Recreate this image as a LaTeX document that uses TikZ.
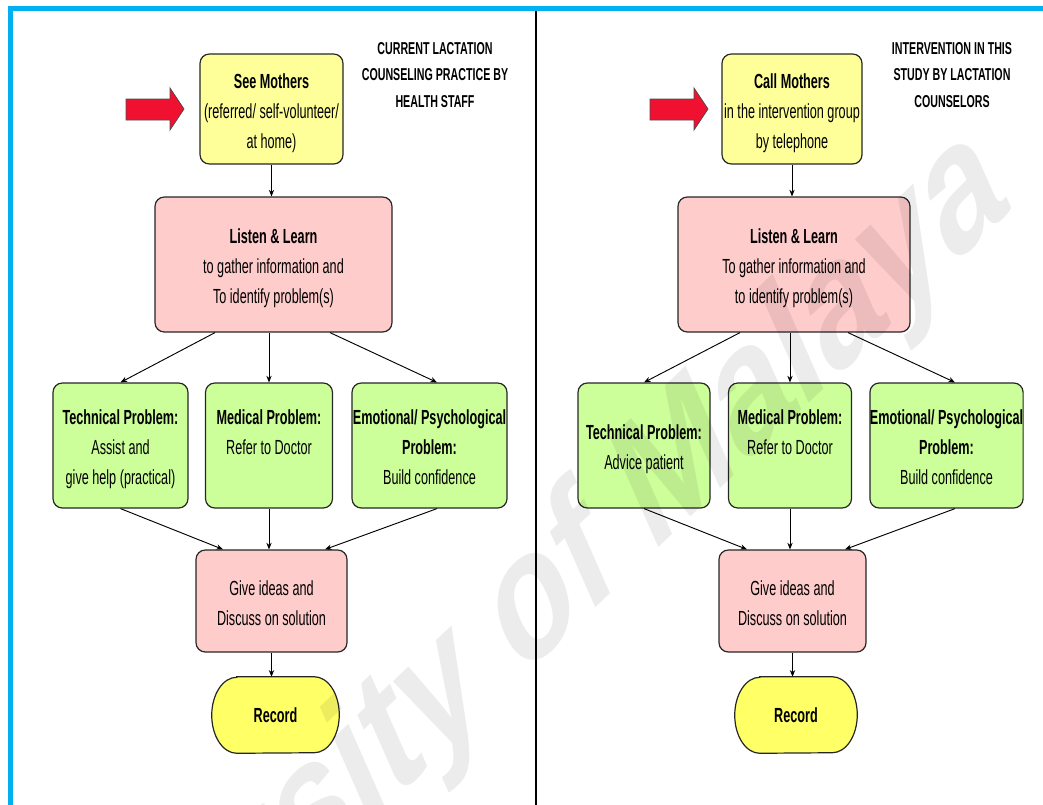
\documentclass[tikz,border=0pt]{standalone}
\usepackage{fontspec}
\setmainfont{Liberation Sans}[FakeStretch=0.62]
\newfontfamily\wmfont{Liberation Sans}
\usetikzlibrary{arrows.meta,backgrounds}

\definecolor{boxyellow}{HTML}{FFFF99}
\definecolor{boxpink}{HTML}{FFCCCC}
\definecolor{boxgreen}{HTML}{CCFF99}
\definecolor{recyellow}{HTML}{FFFF66}
\definecolor{arrowred}{HTML}{F0102F}
\definecolor{frameblue}{HTML}{00B0F0}

\newcommand\bxfont{\fontsize{15.3}{22.5}\selectfont}
\newcommand\hdfont{\bfseries\fontsize{12.9}{19.9}\selectfont}
% struts that fix the height of the first and the depth of the last text line
\newcommand\firstrow{\rule{0pt}{20.25pt}}
\newcommand\lastrow{\rule[-6.75pt]{0pt}{6.75pt}}

% outline of a terminator box with elliptic ends, drawn behind the named node
\newcommand\termpath[1]{%
  \begin{scope}[on background layer]
    \draw[recshape] ([shift={(25,0)}]#1.north west) -- ([shift={(-25,0)}]#1.north east)
      arc[start angle=90, end angle=-90, x radius=18.75pt, y radius=28.5pt]
      -- ([shift={(25,0)}]#1.south west)
      arc[start angle=270, end angle=90, x radius=18.75pt, y radius=28.5pt] -- cycle;
  \end{scope}}

\tikzset{
  entryarrow/.pic={
    \draw[entry] (0,-10) -- (44,-10) -- (44,-21) -- (58,0) -- (44,21) -- (44,11) -- (0,11) -- cycle;
  }
}

\begin{document}
\begin{tikzpicture}[x=0.75pt,y=-0.75pt,
  wh/.style 2 args={minimum width=#1*0.75pt, minimum height=#2*0.75pt},
  box/.style={draw=black!85, line width=0.9pt, rounded corners=7pt, align=center, inner sep=0pt, font=\bxfont},
  seebox/.style={box, fill=boxyellow},
  learnbox/.style={box, fill=boxpink},
  probbox/.style={box, fill=boxgreen},
  recbox/.style={align=center, inner sep=0pt, font=\bxfont\bfseries},
  recshape/.style={draw=black!85, line width=0.9pt, fill=recyellow},
  link/.style={draw=black, line width=0.7pt, -{Stealth[length=5pt,width=4pt]}},
  entry/.style={fill=arrowred, draw=black!70, line width=0.6pt},
  heading/.style={align=center, font=\hdfont},
  frame/.style={draw=frameblue, line width=3.75pt},
  divider/.style={draw=black, line width=1.5pt},
]
\useasboundingbox (0,0) rectangle (1043,804);
\clip (0,0) rectangle (1043,804);

% page frame and divider between the two panels
\draw[frame] (10.5,830) -- (10.5,8.5) -- (1070,8.5);
\draw[divider] (536,11) -- (536,810);

% ---------- left panel: current practice ----------
\pic at (126,109) {entryarrow};
\node[heading] (titleL) at (435,75) {CURRENT LACTATION\\COUNSELING PRACTICE BY\\HEALTH STAFF};

\node[seebox, wh={143}{110}] (seeL) at (271.5,109)
  {\firstrow\textbf{See Mothers}\\(referred/ self-volunteer/\\at home)\lastrow};
\node[learnbox, wh={237}{135}] (learnL) at (273.5,264.5)
  {\firstrow\textbf{Listen \& Learn}\\to gather information and\\To identify problem(s)\lastrow};
\node[probbox, wh={135}{125}] (techL) at (120.5,445.5)
  {\firstrow\textbf{Technical Problem:}\\Assist and\\give help (practical)\lastrow};
\node[probbox, wh={127}{125}] (medL) at (269,445.5)
  {\firstrow\textbf{Medical Problem:}\\Refer to Doctor\\\lastrow};
\node[probbox, wh={155}{125}] (emoL) at (429.5,445.5)
  {\firstrow\textbf{Emotional/ Psychological}\\\textbf{Problem:}\\Build confidence\lastrow};
\node[learnbox, wh={151}{102}] (ideaL) at (271.5,601)
  {\firstrow Give ideas and\\Discuss on solution\lastrow};
\node[recbox, wh={127}{76}] (recL) at (275.5,715) {Record};
\termpath{recL}

\draw[link] (seeL.south) -- (seeL.south |- learnL.north);
\draw[link] ([shift={(-58.5,0)}]learnL.south) -- (techL.north);
\draw[link] (medL.north |- learnL.south) -- (medL.north);
\draw[link] ([shift={(56.5,0)}]learnL.south) -- ([shift={(7.5,0)}]emoL.north);
\draw[link] (techL.south) -- ([shift={(-48.5,0)}]ideaL.north);
\draw[link] (medL.south) -- (medL.south |- ideaL.north);
\draw[link] ([shift={(7.5,0)}]emoL.south) -- ([shift={(53.5,0)}]ideaL.north);
\draw[link] (ideaL.south) -- (ideaL.south |- recL.north);

% ---------- right panel: intervention ----------
\pic at (650,109) {entryarrow};
\node[heading] (titleR) at (952,75) {INTERVENTION IN THIS\\STUDY BY LACTATION\\COUNSELORS};

\node[seebox, wh={140}{110}] (seeR) at (792,109)
  {\firstrow\textbf{Call Mothers}\\in the intervention group\\by telephone\lastrow};
\node[learnbox, wh={232}{135}] (learnR) at (794,264.5)
  {\firstrow\textbf{Listen \& Learn}\\To gather information and\\to identify problem(s)\lastrow};
\node[probbox, wh={132}{125}] (techR) at (644,445.5)
  {\firstrow\textbf{Technical Problem:}\\Advice patient\lastrow};
\node[probbox, wh={123}{125}] (medR) at (790,445.5)
  {\firstrow\textbf{Medical Problem:}\\Refer to Doctor\\\lastrow};
\node[probbox, wh={151}{125}] (emoR) at (946.5,445.5)
  {\firstrow\textbf{Emotional/ Psychological}\\\textbf{Problem:}\\Build confidence\lastrow};
\node[learnbox, wh={147}{102}] (ideaR) at (792.5,601)
  {\firstrow Give ideas and\\Discuss on solution\lastrow};
\node[recbox, wh={122}{76}] (recR) at (796,715) {Record};
\termpath{recR}

\draw[link] (seeR.south) -- (seeR.south |- learnR.north);
\draw[link] ([shift={(-54,0)}]learnR.south) -- (techR.north);
\draw[link] (medR.north |- learnR.south) -- (medR.north);
\draw[link] ([shift={(54,0)}]learnR.south) -- ([shift={(8.5,0)}]emoR.north);
\draw[link] (techR.south) -- ([shift={(-45.5,0)}]ideaR.north);
\draw[link] (medR.south) -- (medR.south |- ideaR.north);
\draw[link] ([shift={(8.5,0)}]emoR.south) -- ([shift={(52.5,0)}]ideaR.north);
\draw[link] (ideaR.south) -- (ideaR.south |- recR.north);

% ---------- watermark ----------
\begin{scope}[shift={(1012,210)}, xscale=0.68]
  \node[transform shape, rotate=33, anchor=base east, inner sep=0pt,
        text=black, text opacity=0.075,
        font=\wmfont\bfseries\fontsize{142}{142}\selectfont] (mark) {University of Malaya};
\end{scope}
\end{tikzpicture}
\end{document}
